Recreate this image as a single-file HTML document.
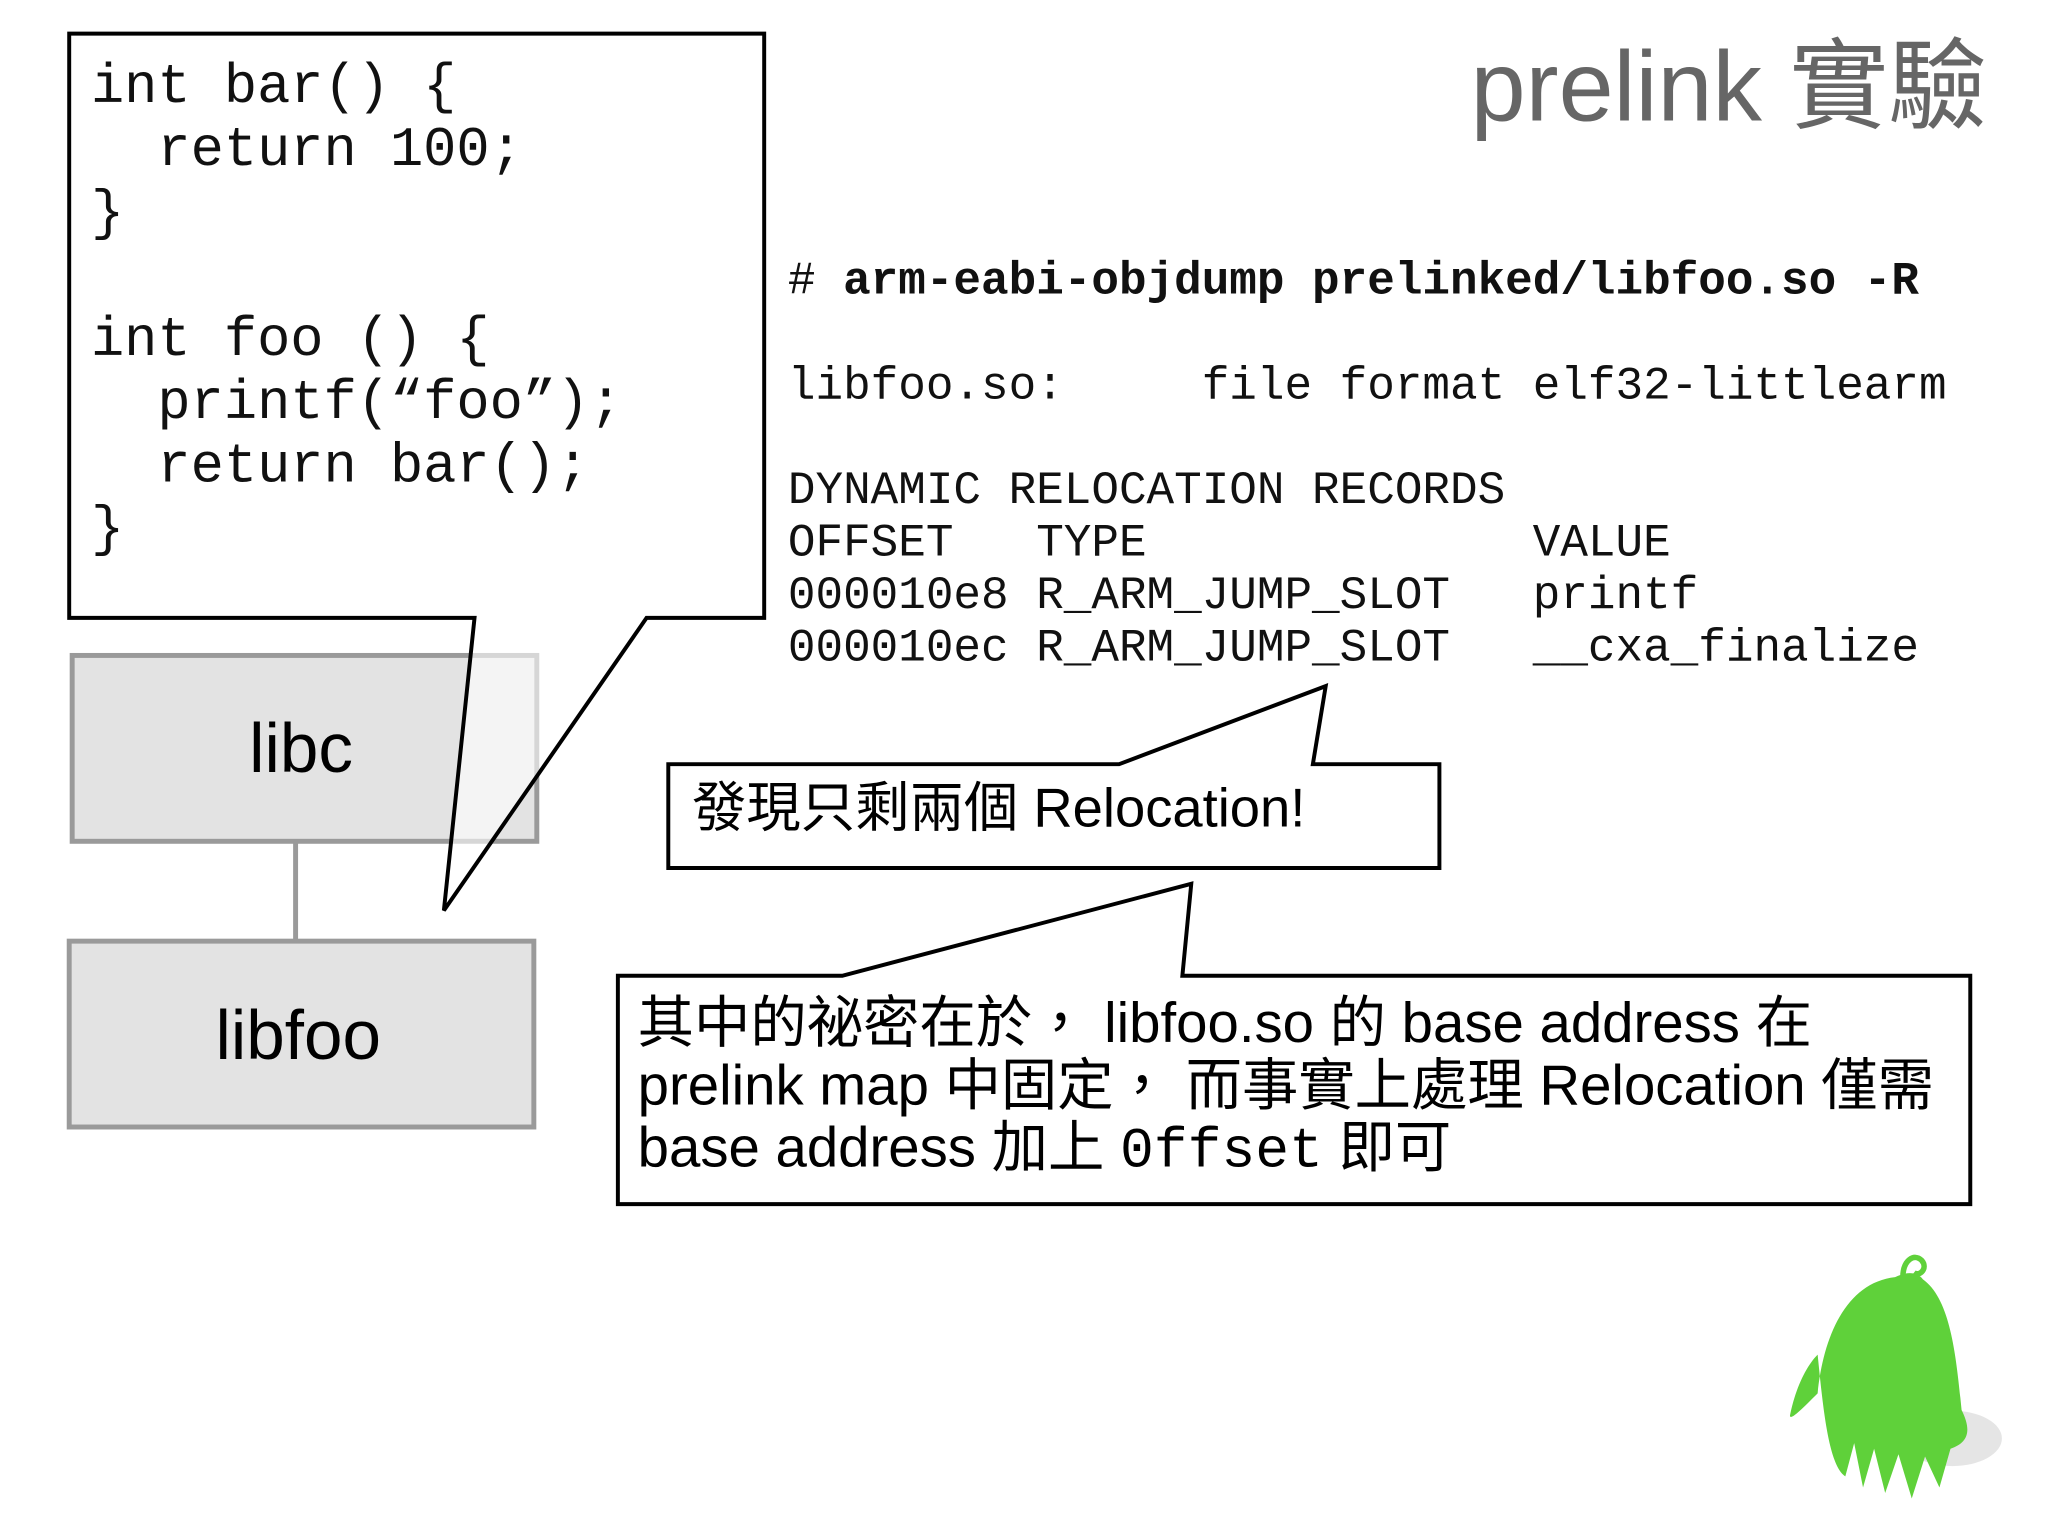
<!DOCTYPE html>
<html><head><meta charset="utf-8"><style>
html,body{margin:0;padding:0;background:#fff;}
body{width:2048px;height:1535px;position:relative;overflow:hidden;}
#w{position:absolute;left:0;top:0;width:2048px;height:1535px;transform:scale(0.9886);transform-origin:0 0;}
.t{position:absolute;white-space:pre;line-height:1;}
.mono{font-family:"Liberation Mono","DejaVu Sans Mono",monospace;}
.sans{font-family:"Liberation Sans","Noto Sans CJK TC",sans-serif;}
</style></head><body><div id="w">
<svg width="2048" height="1535" style="position:absolute;left:0;top:0">
  <rect x="73" y="663" width="470" height="188" fill="#e3e3e3" stroke="#9a9a9a" stroke-width="5"/>
  <line x1="299" y1="851" x2="299" y2="952" stroke="#9a9a9a" stroke-width="5"/>
  <rect x="70" y="952" width="470" height="188" fill="#e3e3e3" stroke="#9a9a9a" stroke-width="5"/>
  <path d="M70,34 H773 V625 H654 L480,625 H70 Z" fill="#fff" stroke="none"/>
  <path d="M480,625 L449,921 L654,625" fill="rgba(255,255,255,0.6)" stroke="none"/>
  <path d="M70,34 H773 V625 H654 L449,921 L480,625 H70 Z" fill="none" stroke="#000" stroke-width="4"/>
  <path d="M676,773 H1132 L1341,694 L1328,773 H1456 V878 H676 Z" fill="#fff" stroke="#000" stroke-width="4"/>
  <path d="M625,987 H852 L1205,894 L1196,987 H1993 V1218 H625 Z" fill="#fff" stroke="#000" stroke-width="4"/>
  <ellipse cx="1975" cy="1455" rx="50" ry="28" fill="#ccc" opacity="0.5"/>
  <g transform="translate(1805,1275) scale(1.12) translate(-1805,-1275)">
  <path d="M1905,1290 C1860,1295 1840,1345 1835,1395 C1820,1410 1810,1420 1810,1415 C1815,1390 1825,1370 1835,1360 C1840,1410 1845,1460 1860,1470 L1868,1440 L1876,1480 L1886,1445 L1896,1485 L1908,1450 L1920,1490 L1932,1452 L1945,1480 L1955,1445 C1970,1440 1975,1430 1965,1410 C1960,1360 1955,1310 1930,1292 C1925,1285 1915,1285 1905,1290 Z" fill="#5fd13a"/>
  <path d="M1912,1290 C1912,1275 1922,1268 1929,1275 C1935,1282 1927,1290 1922,1286" fill="none" stroke="#5fd13a" stroke-width="5"/>
  </g>
</svg>
<div class="t mono" style="left:92px;top:56px;font-size:56px;line-height:64px;color:#111">int bar() {
  return 100;
}

int foo () {
  printf(“foo”);
  return bar();
}</div>
<div class="t sans" style="left:252px;top:722px;font-size:70px;color:#000">libc</div>
<div class="t sans" style="left:218px;top:1012px;font-size:70px;color:#000">libfoo</div>
<div class="t sans" style="right:38px;top:38px;font-size:100px;color:#666;">prelink 實驗</div>
<div class="t mono" style="left:797px;top:258px;font-size:46.5px;line-height:53px;color:#111"># <b>arm-eabi-objdump prelinked/libfoo.so -R</b>

libfoo.so:     file format elf32-littlearm

DYNAMIC RELOCATION RECORDS
OFFSET   TYPE              VALUE
000010e8 R_ARM_JUMP_SLOT   printf
000010ec R_ARM_JUMP_SLOT   __cxa_finalize</div>
<div class="t sans" style="left:700px;top:790px;font-size:55px;color:#000">發現只剩兩個 Relocation!</div>
<div class="t sans" style="left:645px;top:1004px;font-size:57px;line-height:63px;color:#000">其中的祕密在於， libfoo.so 的 base address 在
prelink map 中固定， 而事實上處理 Relocation 僅需
base address 加上 <span class="mono">0ffset</span> 即可</div>
</div></body></html>
